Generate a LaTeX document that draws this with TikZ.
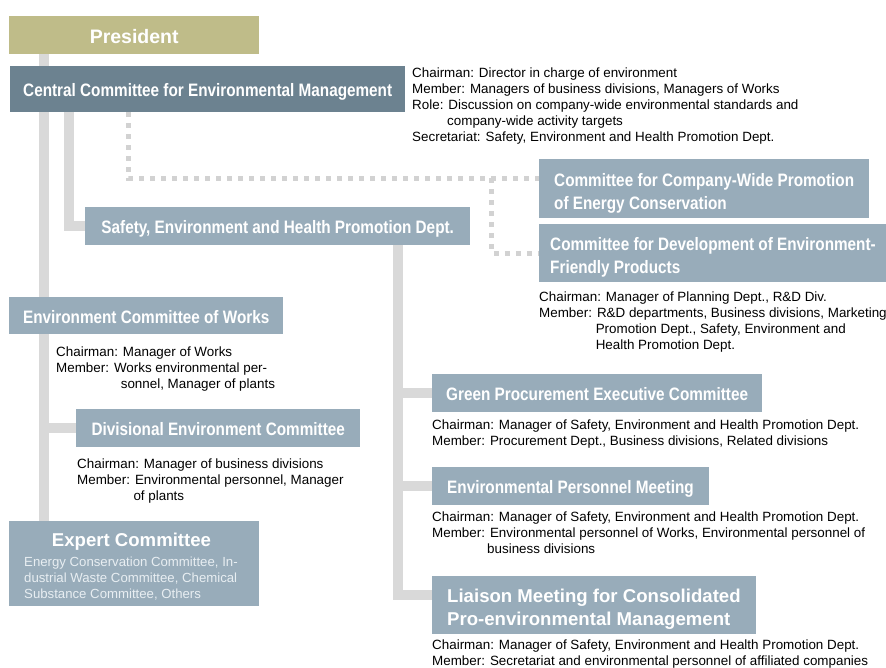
\documentclass[tikz,border=0pt]{standalone}
\usepackage{fontspec}
\setmainfont{Liberation Sans}
\newfontfamily\narrowsans[FakeStretch=0.85]{Liberation Sans}
\usepackage{tikz}
\usetikzlibrary{backgrounds}
\definecolor{presgold}{RGB}{191, 188, 137}
\definecolor{deepslate}{RGB}{108, 130, 144}
\definecolor{paleslate}{RGB}{152, 172, 186}
\definecolor{railgray}{RGB}{217, 217, 217}
\definecolor{dotgray}{RGB}{210, 210, 210}
\definecolor{faintwhite}{RGB}{232, 238, 242}

\begin{document}
\begin{tikzpicture}[x=1pt, y=-1pt,
  box/.style={fill=paleslate, text=white, anchor=north west, inner xsep=0pt, inner ysep=0pt,
    text height=15pt, text depth=0pt,
    font=\narrowsans\bfseries\fontsize{18}{23}\selectfont},
  leftbox/.style={box, inner xsep=15pt, align=left},
  twoline/.style={text height=41pt},
  note/.style={anchor=base west, align=left, inner sep=0pt, font=\fontsize{13.4}{16}\selectfont},
  trunk/.style={railgray, line width=10pt},
  dots/.style={dotgray, line width=5pt, dash pattern=on 5pt off 6pt}]

  \useasboundingbox (0, 0) rectangle (886, 668);

  % boxes
  \node[box, fill=presgold, font=\bfseries\fontsize{19.5}{23}\selectfont, text height=16.5pt,
    minimum width=250, minimum height=38] (pres) at (9, 16) {President};
  \node[box, fill=deepslate, minimum width=395, minimum height=46] (central) at (10, 66)
    {Central Committee for Environmental Management};
  \node[box, minimum width=385, minimum height=38] (safety) at (85, 207)
    {Safety, Environment and Health Promotion Dept.};
  \node[leftbox, twoline, minimum height=59] (copro) at (539, 159)
    {Committee for Company-Wide Promotion\\of Energy Conservation};
  \node[leftbox, twoline, inner xsep=11pt, minimum height=58] (envf) at (539, 224)
    {Committee for Development of Environment-\\Friendly Products};
  \node[box, minimum width=274, minimum height=37] (works) at (9, 297)
    {Environment Committee of Works};
  \node[box, minimum width=284, minimum height=38] (div) at (76, 409)
    {Divisional Environment Committee};
  \node[leftbox, inner xsep=14pt, minimum height=38] (green) at (432, 374)
    {Green Procurement Executive Committee};
  \node[leftbox, minimum height=38] (epm) at (432, 467)
    {Environmental Personnel Meeting};
  \node[leftbox, twoline, font=\bfseries\fontsize{18.6}{23}\selectfont, minimum height=58] (liaison) at (432, 576)
    {Liaison Meeting for Consolidated\\Pro-environmental Management};
  \node[box, minimum width=250, minimum height=85] (expert) at (9, 521) {};
  \node[anchor=base, inner sep=0pt, text=white, font=\bfseries\fontsize{18.6}{23}\selectfont]
    (experttitle) at (131.5, 546) {Expert Committee};
  \node[note, text=faintwhite, font=\fontsize{13.2}{16}\selectfont] (expertlist) at (24, 598)
    {Energy Conservation Committee, In-\\dustrial Waste Committee, Chemical\\Substance Committee, Others};

  % notes (placed at the baseline of their last line)
  \node[note] (centralnote) at (412, 142)
    {Chairman: Director in charge of environment\\
     Member: Managers of business divisions, Managers of Works\\
     Role: Discussion on company-wide environmental standards and\\
     \hspace*{35pt}company-wide activity targets\\
     Secretariat: Safety, Environment and Health Promotion Dept.};
  \node[note] (envfnote) at (539, 349)
    {Chairman: Manager of Planning Dept., R\&D Div.\\
     Member: R\&D departments, Business divisions, Marketing\\
     \hspace*{56.6pt}Promotion Dept., Safety, Environment and\\
     \hspace*{56.6pt}Health Promotion Dept.};
  \node[note] (worksnote) at (56, 388)
    {Chairman: Manager of Works\\
     Member: Works environmental per-\\
     \hspace*{64.6pt}sonnel, Manager of plants};
  \node[note] (divnote) at (77, 500)
    {Chairman: Manager of business divisions\\
     Member: Environmental personnel, Manager\\
     \hspace*{56.3pt}of plants};
  \node[note] (greennote) at (432, 445)
    {Chairman: Manager of Safety, Environment and Health Promotion Dept.\\
     Member: Procurement Dept., Business divisions, Related divisions};
  \node[note] (epmnote) at (432, 553)
    {Chairman: Manager of Safety, Environment and Health Promotion Dept.\\
     Member: Environmental personnel of Works, Environmental personnel of\\
     \hspace*{55pt}business divisions};
  \node[note] (liaisonnote) at (432, 665)
    {Chairman: Manager of Safety, Environment and Health Promotion Dept.\\
     Member: Secretariat and environmental personnel of affiliated companies};

  % connectors
  \begin{scope}[on background layer]
    \coordinate (spine) at ([xshift=34.5]pres.south west);
    \coordinate (rail) at ([xshift=312.7]safety.south west);
    \coordinate (fork) at (491.5, 178.5);
    \draw[trunk] (spine) -- (spine |- expert.north);
    \draw[trunk] (spine |- div.west) -- (div.west);
    \draw[trunk] ([xshift=59]central.south west) |- (safety.west);
    \draw[trunk] (rail) |- ([yshift=-19]liaison.north west);
    \draw[trunk] (rail |- green.west) -- (green.west);
    \draw[trunk] (rail |- epm.west) -- (epm.west);
    \draw[dots] ([xshift=118.5]central.south west) |- ([yshift=-19.5]copro.north west);
    \draw[dots] (fork) |- (envf.west);
  \end{scope}

\end{tikzpicture}
\end{document}
